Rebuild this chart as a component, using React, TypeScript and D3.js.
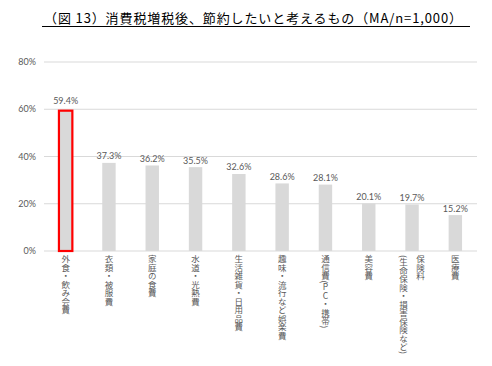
import React from 'react';
import * as d3 from 'd3';

const categories = [
  '外食・飲み会費',
  '衣類・被服費',
  '家庭の食費',
  '水道・光熱費',
  '生活雑貨・日用品費',
  '趣味・流行など娯楽費',
  '通信費(PC・携帯)',
  '美容費',
  '保険料\n(生命保険・損害保険など)',
  '医療費',
];
const values = [59.4, 37.3, 36.2, 35.5, 32.6, 28.6, 28.1, 20.1, 19.7, 15.2];
const yTicks = [0, 20, 40, 60, 80];
const highlighted = ['外食・飲み会費'];

const title = '（図 13）消費税増税後、節約したいと考えるもの（MA/n=1,000）';

// latin letters stand upright in the vertical labels, brackets stay rotated
function verticalParts(s: string) {
  return s.split(/([A-Za-z]+)/).filter(p => p !== '').map((p, k) =>
    /^[A-Za-z]+$/.test(p)
      ? <tspan key={k} style={{ textOrientation: 'upright' } as any}>{p}</tspan>
      : <tspan key={k}>{p}</tspan>
  );
}

export default function App() {
  const width = 492;
  const height = 366;
  const margin = { top: 62, right: 15, bottom: 115, left: 44 };

  const x = d3.scaleBand<string>()
    .domain(categories)
    .range([margin.left, width - margin.right])
    .paddingInner(0.69)
    .paddingOuter(0.345);

  const y = d3.scaleLinear()
    .domain([0, 80])
    .range([height - margin.bottom, margin.top]);

  const labelFont = '"Noto Sans CJK JP", "Noto Sans", sans-serif';
  const numFont = 'Lato, "Noto Sans", sans-serif';
  const grey = '#595959';

  return (
    <svg width={width} height={height} style={{ position: 'absolute', left: 0, top: 0, background: '#fff' }}>
      <text x={44} y={23} fontFamily={labelFont} fontSize={13} fill="#000" textLength={418} lengthAdjust="spacing">
        {title}
      </text>
      <line x1={42} x2={470} y1={26.5} y2={26.5} stroke="#000" strokeWidth={1} />

      {yTicks.map(t => (
        <g key={t}>
          <line x1={margin.left} x2={width - margin.right} y1={y(t)} y2={y(t)} stroke="#d9d9d9" strokeWidth={1} />
          <text x={36} y={y(t)} dy="0.35em" textAnchor="end" fontFamily={numFont} fontSize={9} fill={grey}>
            {t}%
          </text>
        </g>
      ))}

      {categories.map((c, i) => {
        const bx = x(c)!;
        const bw = x.bandwidth();
        const hl = highlighted.includes(c);
        const cx = bx + bw / 2;
        const lines = c.split('\n');
        return (
          <g key={c}>
            <rect
              x={bx}
              y={y(values[i])}
              width={bw}
              height={y(0) - y(values[i])}
              fill="#d9d9d9"
              stroke={hl ? '#ff0000' : 'none'}
              strokeWidth={hl ? 2.2 : 0}
            />
            <text x={cx} y={y(values[i]) - (hl ? 7 : 3.5)} textAnchor="middle" fontFamily={numFont} fontSize={9} fill={grey}>
              {values[i].toFixed(1)}%
            </text>
            {lines.map((ln, j) => {
              const off = lines.length === 1 ? 0 : (j === 0 ? 8.5 : -8.5);
              return (
                <text
                  key={j}
                  x={cx + off}
                  y={255}
                  fontFamily={labelFont}
                  fontSize={8.5}
                  fill={grey}
                  style={{ writingMode: 'vertical-rl', textOrientation: 'mixed' } as any}
                >
                  {verticalParts(ln)}
                </text>
              );
            })}
          </g>
        );
      })}
    </svg>
  );
}
